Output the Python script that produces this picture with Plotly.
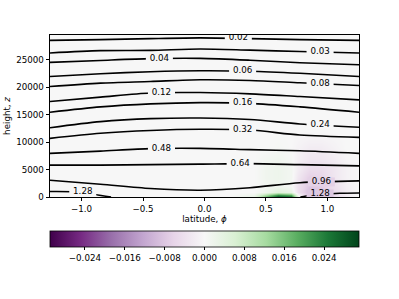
import plotly.graph_objects as go

# ---------------- background field (anomaly, coloured) ----------------
field_lat = [-1.2566, 0.2, 0.4, 0.5, 0.6, 0.7, 0.76, 0.85, 0.95, 1.05, 1.15, 1.2566]
field_z = [0, 400, 1000, 2000, 3500, 5000, 7000, 9000, 12000, 29500]
field_row_0 = [0, 0, 0.003, 0.018, 0.029, 0.027, 0.004, -0.009, -0.008, -0.005, -0.002, 0]
field_row_1 = [0, 0, 0.002, 0.012, 0.022, 0.019, 0.0, -0.009, -0.008, -0.005, -0.002, 0]
field_row_2 = [0, 0, 0, 0.002, 0.005, 0.003, -0.004, -0.009, -0.008, -0.005, -0.002, 0]
field_row_3 = [0, 0, 0, 0.001, 0.0015, 0.0005, -0.004, -0.008, -0.007, -0.004, -0.0015, 0]
field_row_4 = [0, 0, 0, 0.0015, 0.002, 0.001, -0.003, -0.007, -0.006, -0.003, -0.001, 0]
field_row_5 = [0, 0, 0, 0.0015, 0.002, 0.001, -0.002, -0.005, -0.005, -0.003, -0.001, 0]
field_row_6 = [0, 0, 0, 0.001, 0.0015, 0.0005, -0.0015, -0.003, -0.003, -0.002, -0.0005, 0]
field_row_7 = [0, 0, 0, 0, 0.0005, 0, -0.001, -0.002, -0.002, -0.001, 0, 0]
field_row_8 = [0, 0, 0, 0, 0, 0, 0, 0, 0, 0, 0, 0]
field_row_9 = [0, 0, 0, 0, 0, 0, 0, 0, 0, 0, 0, 0]
field_rows = [field_row_0, field_row_1, field_row_2, field_row_3, field_row_4,
              field_row_5, field_row_6, field_row_7, field_row_8, field_row_9]

# ---------------- contour lines (height of each level vs latitude) -------
contour_lat = [-1.2566, -0.846, -0.44, -0.035, 0.37, 0.776, 1.2566]
h_002 = [28530, 28660, 28840, 28970, 28840, 28660, 28530]
h_003 = [26230, 26650, 26700, 26960, 26740, 26500, 26230]
h_004 = [24510, 24870, 25190, 25240, 24910, 24450, 24090]
h_006 = [21950, 22440, 22810, 22990, 22900, 22530, 21950]
h_008 = [20120, 20740, 21030, 21340, 21220, 20800, 20300]
h_012 = [17380, 18180, 18950, 19020, 18780, 18290, 17690]
h_016 = [15440, 16410, 16960, 17190, 17050, 16410, 15440]
h_024 = [12620, 13720, 14270, 14390, 14120, 13300, 12690]
h_032 = [10680, 11600, 12110, 12330, 12200, 11290, 10860]
h_048 = [7940, 8360, 8800, 8850, 8630, 8410, 7940]
h_064 = [5800, 5800, 5890, 5980, 6070, 5890, 5670]
h_096 = [3050, 2320, 1540, 1230, 1680, 2600, 2930]
level_heights = [h_002, h_003, h_004, h_006, h_008, h_012, h_016,
                 h_024, h_032, h_048, h_064, h_096]

lat_128_left = [-1.2566, -1.0, -0.89, -0.76]
z_128_left = [1000, 900, 450, 0]
lat_128_right = [0.78, 0.86, 0.95, 1.1, 1.2566]
z_128_right = [0, 330, 500, 680, 730]

# ---------------- inline contour labels ----------------
label_text = ["0.02", "0.03", "0.04", "0.06", "0.08", "0.12", "0.16",
              "0.24", "0.32", "0.48", "0.64", "0.96", "1.28", "1.28"]
label_lat = [0.275, 0.94, -0.367, 0.31, 0.94, -0.35, 0.31,
             0.94, 0.31, -0.35, 0.29, 0.95, -0.99, 0.94]
label_z = [28900, 26400, 25240, 22950, 20620, 19000, 17100,
           13080, 12250, 8850, 6080, 2750, 950, 530]
label_bg = ["#f7f7f7"] * 11 + ["#e4d2e6", "#f7f7f7", "#ddc8e1"]

# colour bar ticks
cbar_ticks = [-0.024, -0.016, -0.008, 0.0, 0.008, 0.016, 0.024]
cbar_ticktext = ["\u22120.024", "\u22120.016", "\u22120.008", "0.000", "0.008", "0.016", "0.024"]
x_ticks = [-1.0, -0.5, 0.0, 0.5, 1.0]
x_ticktext = ["\u22121.0", "\u22120.5", "0.0", "0.5", "1.0"]
y_ticks = [0, 5000, 10000, 15000, 20000, 25000]
y_ticktext = ["0", "5000", "10000", "15000", "20000", "25000"]

FONT = "DejaVu Sans"
FS = 8.7
LAT_MAX = 1.2566
Z_MAX = 29500
GAP = 0.11

fig = go.Figure()
fig.add_trace(go.Heatmap(
    x=field_lat, y=field_z, z=field_rows, zsmooth="best",
    colorscale="PRGn", zmin=-0.031, zmax=0.031, showscale=True,
    hoverinfo="skip",
    colorbar=dict(orientation="h", x=0.5, xanchor="center", y=-0.21, yanchor="top",
                  len=1.0, lenmode="fraction", thickness=16, xpad=0, ypad=0,
                  outlinewidth=0.8, outlinecolor="black",
                  tickvals=cbar_ticks, ticktext=cbar_ticktext,
                  ticks="outside", ticklen=3.5, tickwidth=0.8, tickcolor="black",
                  tickfont=dict(family=FONT, size=FS, color="black")),
))

line_style = dict(color="black", width=1.6, shape="spline", smoothing=0.8)
for h in level_heights:
    fig.add_trace(go.Scatter(x=contour_lat, y=h, mode="lines", line=line_style,
                             showlegend=False, hoverinfo="skip"))
fig.add_trace(go.Scatter(x=lat_128_left, y=z_128_left, mode="lines", line=line_style,
                         showlegend=False, hoverinfo="skip"))
fig.add_trace(go.Scatter(x=lat_128_right, y=z_128_right, mode="lines", line=line_style,
                         showlegend=False, hoverinfo="skip"))

# gaps in the lines behind the labels
for la, zz, bg in zip(label_lat, label_z, label_bg):
    fig.add_trace(go.Scatter(x=[la - GAP, la + GAP], y=[zz, zz], mode="lines",
                             line=dict(color=bg, width=9), showlegend=False,
                             hoverinfo="skip"))
fig.add_trace(go.Scatter(x=label_lat, y=label_z, text=label_text, mode="text",
                         textfont=dict(family=FONT, size=FS, color="black"),
                         textposition="middle center", showlegend=False,
                         hoverinfo="skip"))

axis_common = dict(showline=True, mirror=True, linecolor="black", linewidth=0.8,
                   ticks="outside", ticklen=3.5, tickwidth=0.8, tickcolor="black",
                   showgrid=False, zeroline=False, automargin=False,
                   tickfont=dict(family=FONT, size=FS, color="black"))
fig.update_layout(
    template="none",
    width=399, height=299,
    margin=dict(l=50, r=40, t=35, b=102),
    paper_bgcolor="white", plot_bgcolor="white",
    font=dict(family=FONT, size=FS, color="black"),
    showlegend=False,
    xaxis=dict(range=[-LAT_MAX, LAT_MAX], tickvals=x_ticks, ticktext=x_ticktext,
               title=dict(text="latitude, <i>\u03d5</i>", standoff=2,
                          font=dict(family=FONT, size=FS, color="black")),
               **axis_common),
    yaxis=dict(range=[0, Z_MAX], tickvals=y_ticks, ticktext=y_ticktext,
               title=dict(text="height, <i>z</i>", standoff=4,
                          font=dict(family=FONT, size=FS, color="black")),
               **axis_common),
)
fig.write_html("out.html", config={"displayModeBar": False},
               post_script="document.body.style.margin='0px';")
